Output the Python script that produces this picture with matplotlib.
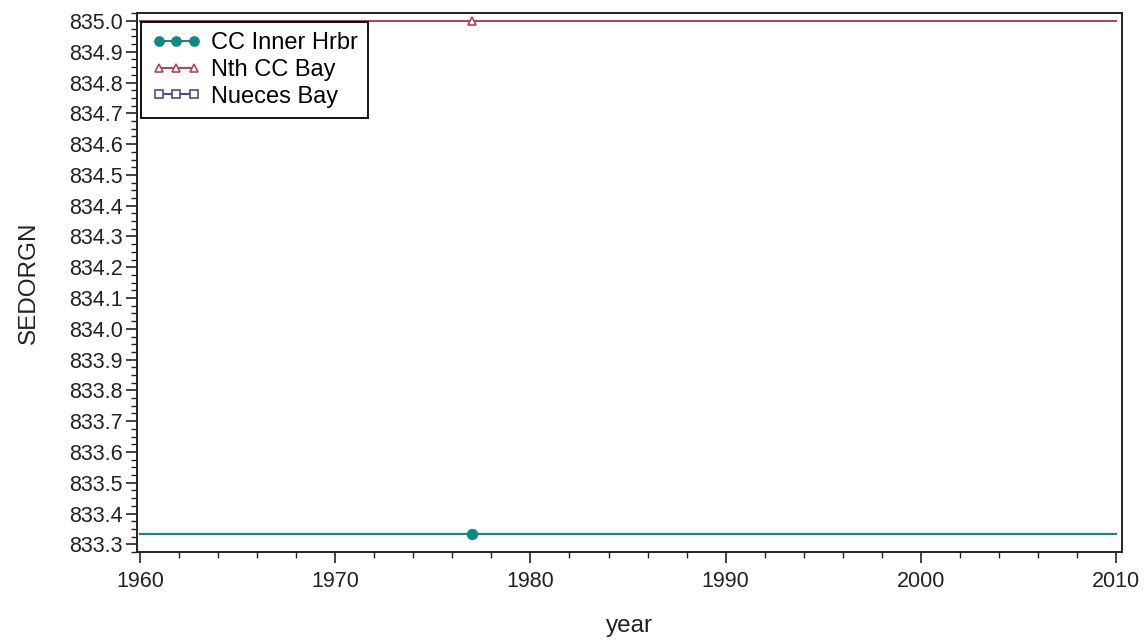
import matplotlib
matplotlib.use("Agg")
import matplotlib.pyplot as plt
from matplotlib.ticker import MultipleLocator, FormatStrFormatter
from matplotlib.lines import Line2D

plt.rcParams['font.family'] = ['Liberation Sans', 'DejaVu Sans']

series_names = ["CC Inner Hrbr", "Nth CC Bay", "Nueces Bay"]
series_years = [[1977], [1977], []]
series_values = [[833.3333], [835.0], []]
series_colors = ["#0f8a83", "#b0475d", "#4a4d8f"]
series_markers = ["o", "^", "s"]
series_fill = [True, False, False]

x_ticks = [1960, 1970, 1980, 1990, 2000, 2010]
y_ticks = [833.3, 833.4, 833.5, 833.6, 833.7, 833.8, 833.9, 834.0, 834.1,
           834.2, 834.3, 834.4, 834.5, 834.6, 834.7, 834.8, 834.9, 835.0]

fig = plt.figure(figsize=(11.47, 6.41), dpi=100)
ax = fig.add_axes([137/1147, 1 - 552/641, (1122 - 137)/1147, (552 - 13)/641])

handles = []
for name, xs, ys, c, m, f in zip(series_names, series_years, series_values,
                                 series_colors, series_markers, series_fill):
    if ys:
        mean_val = sum(ys) / len(ys)
        ax.plot([x_ticks[0], x_ticks[-1]], [mean_val, mean_val], color=c, lw=1.5, zorder=2)
        ax.plot(xs, ys, linestyle='none', marker=m, markersize=7 if f else 6,
                markerfacecolor=c if f else 'white', markeredgecolor=c,
                markeredgewidth=1.2, zorder=3)
    h = Line2D([0, 1], [0, 0], color=c, lw=1.5, marker=m, markersize=6.5 if f else 5.5,
               markerfacecolor=c if f else 'white', markeredgecolor=c,
               markeredgewidth=1.2)
    handles.append(h)

ax.set_xlim(1959.85, 2010.3)
ax.set_ylim(833.275, 835.026)
ax.set_xticks(x_ticks)
ax.set_yticks(y_ticks)
ax.xaxis.set_minor_locator(MultipleLocator(2))
ax.yaxis.set_minor_locator(MultipleLocator(0.025))
ax.yaxis.set_major_formatter(FormatStrFormatter('%.1f'))

for s in ax.spines.values():
    s.set_linewidth(1.4)
    s.set_color('#222222')

ax.tick_params(axis='both', which='major', direction='out', length=8, width=1.2,
               labelsize=15.5, colors='#222222', labelcolor='#222222')
ax.tick_params(axis='x', which='major', pad=6)
ax.tick_params(axis='y', which='major', pad=2)
ax.tick_params(axis='both', which='minor', direction='out', length=4.5, width=1.0,
               colors='#222222')

ax.set_xlabel('year', fontsize=17.5, color='#222222', labelpad=16)
ax.set_ylabel('SEDORGN', fontsize=17.5, color='#222222', labelpad=21)

leg = ax.legend(handles, series_names, loc='upper left',
                bbox_to_anchor=(0.004, 0.984), fontsize=17,
                frameon=True, fancybox=False, edgecolor='black',
                handlelength=2.1, handletextpad=0.4, borderpad=0.45,
                labelspacing=0.2, borderaxespad=0.0, markerfirst=True,
                numpoints=3)
leg.get_frame().set_linewidth(1.3)
leg.get_frame().set_alpha(1)

fig.savefig('out.png', dpi=100)
